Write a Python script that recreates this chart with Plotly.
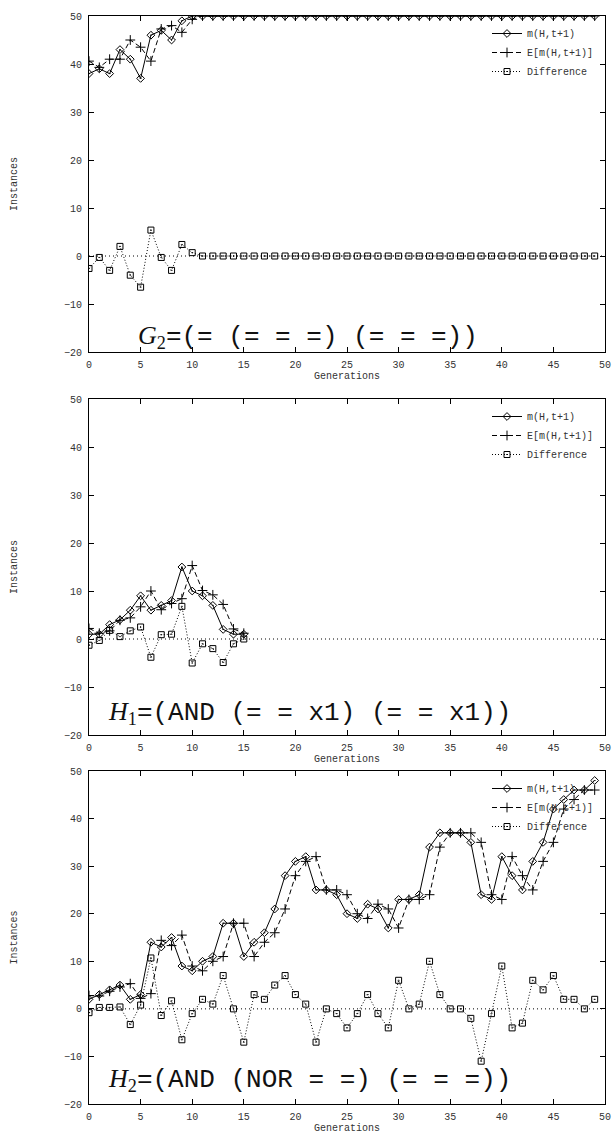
import plotly.graph_objects as go

# ---------------- data ----------------
gens_g2 = list(range(50))
g2_m = [38, 39, 38, 43, 41, 37, 46, 47, 45, 49,
        50, 50, 50, 50, 50, 50, 50, 50, 50, 50,
        50, 50, 50, 50, 50, 50, 50, 50, 50, 50,
        50, 50, 50, 50, 50, 50, 50, 50, 50, 50,
        50, 50, 50, 50, 50, 50, 50, 50, 50, 50]
g2_e = [40.6, 39.3, 41, 41, 45, 43.5, 40.6, 47.3, 48, 46.6,
        49.3, 50, 50, 50, 50, 50, 50, 50, 50, 50,
        50, 50, 50, 50, 50, 50, 50, 50, 50, 50,
        50, 50, 50, 50, 50, 50, 50, 50, 50, 50,
        50, 50, 50, 50, 50, 50, 50, 50, 50, 50]
g2_d = [-2.6, -0.3, -3, 2, -4, -6.5, 5.4, -0.3, -3, 2.4,
        0.7, 0, 0, 0, 0, 0, 0, 0, 0, 0,
        0, 0, 0, 0, 0, 0, 0, 0, 0, 0,
        0, 0, 0, 0, 0, 0, 0, 0, 0, 0,
        0, 0, 0, 0, 0, 0, 0, 0, 0, 0]

gens_h1 = list(range(16))
h1_m = [1, 1, 3, 4, 6, 9, 6, 7, 8, 15, 10, 9, 7, 2, 1, 1]
h1_e = [2.2, 1.2, 1.7, 3.9, 4.4, 6.7, 10, 6.1, 7.4, 8.4, 15.3, 10.1, 9.2, 7.2, 2.1, 1.2]
h1_d = [-1.3, -0.3, 1.8, 0.5, 1.7, 2.5, -3.8, 0.9, 1, 6.8, -5, -1, -2, -4.9, -1, 0]

gens_h2 = list(range(50))
h2_m = [2, 3, 4, 5, 2, 3, 14, 13, 15, 9,
        8, 10, 11, 18, 18, 11, 14, 16, 21, 28,
        31, 32, 25, 25, 24, 20, 19, 22, 21, 17,
        23, 23, 24, 34, 37, 37, 37, 35, 24, 23,
        32, 28, 25, 31, 35, 42, 44, 46, 46, 48]
h2_e = [2.8, 2.7, 3.7, 4.6, 5.3, 2.2, 3.2, 14.4, 13.3, 15.5,
        9, 8, 10, 11, 18, 18, 11, 14, 16, 21,
        28, 31, 32, 25, 25, 24, 20, 19, 22, 21,
        17, 23, 23, 24, 34, 37, 37, 37, 35, 24,
        23, 32, 28, 25, 31, 35, 42, 44, 46, 46]
h2_d = [-0.8, 0.3, 0.3, 0.4, -3.3, 0.8, 10.7, -1.4, 1.7, -6.5,
        -1, 2, 1, 7, 0, -7, 3, 2, 5, 7,
        3, 1, -7, 0, -1, -4, -1, 3, -1, -4,
        6, 0, 1, 10, 3, 0, 0, -2, -11, -1,
        9, -4, -3, 6, 4, 7, 2, 2, 0, 2]

series_names = ["m(H,t+1)", "E[m(H,t+1)]", "Difference"]
panel_labels = [
    '<span style="font-family:Liberation Serif"><i>G</i><sub>2</sub></span>=(= (= = =) (= = =))',
    '<span style="font-family:Liberation Serif"><i>H</i><sub>1</sub></span>=(AND (= = x1) (= = x1))',
    '<span style="font-family:Liberation Serif"><i>H</i><sub>2</sub></span>=(AND (NOR = =) (= = =))',
]
label_x = [4.6, 1.6, 1.6]
label_y = [-16.8, -15.4, -15.0]

x_ticks = [0, 5, 10, 15, 20, 25, 30, 35, 40, 45, 50]
y_ticks = [-20, -10, 0, 10, 20, 30, 40, 50]

panels = [
    (gens_g2, g2_m, g2_e, g2_d),
    (gens_h1, h1_m, h1_e, h1_d),
    (gens_h2, h2_m, h2_e, h2_d),
]

# ---------------- layout geometry (pixels) ----------------
W, H = 615, 1136
plot_left, plot_right = 89, 605
panel_tops = [16, 399, 771]
panel_hs = [336, 336, 333]

MONO = "Liberation Mono"
INK = "#000000"
TXT = "#333333"

fig = go.Figure()

for i, (gx, m, e, d) in enumerate(panels):
    sfx = "" if i == 0 else str(i + 1)
    xa, ya = "x" + sfx, "y" + sfx
    lg = "legend" + sfx
    fig.add_trace(go.Scatter(
        x=gx, y=m, name=series_names[0], xaxis=xa, yaxis=ya, legend=lg,
        mode="lines+markers",
        line=dict(color=INK, width=1),
        marker=dict(symbol="diamond-open-dot", size=6, color=INK, line=dict(width=1, color=INK)),
    ))
    fig.add_trace(go.Scatter(
        x=gx, y=e, name=series_names[1], xaxis=xa, yaxis=ya, legend=lg,
        mode="lines+markers",
        line=dict(color=INK, width=1, dash="5px,3px"),
        marker=dict(symbol="cross-thin-open", size=7, color=INK, line=dict(width=1, color=INK)),
    ))
    fig.add_trace(go.Scatter(
        x=gx, y=d, name=series_names[2], xaxis=xa, yaxis=ya, legend=lg,
        mode="lines+markers",
        line=dict(color=INK, width=1, dash="1px,2px"),
        marker=dict(symbol="square-open-dot", size=6, color=INK, line=dict(width=1, color=INK)),
    ))

    top = panel_tops[i]
    bot = top + panel_hs[i]
    ydom = [1 - bot / H, 1 - top / H]
    xdom = [plot_left / W, plot_right / W]

    axis_common = dict(
        showline=True, linecolor=INK, linewidth=1.2, mirror="ticks",
        ticks="inside", ticklen=5, tickwidth=1, tickcolor=INK,
        showgrid=False, zeroline=False, automargin=False,
        tickfont=dict(family=MONO, size=10, color=TXT),
    )
    fig.layout["xaxis" + sfx] = dict(
        axis_common, domain=xdom, anchor=ya, range=[0, 50],
        tickvals=x_ticks, ticklabelstandoff=3,
        title=dict(text="Generations", font=dict(family=MONO, size=10, color=TXT), standoff=0),
    )
    fig.layout["yaxis" + sfx] = dict(
        axis_common, domain=ydom, anchor=xa, range=[-20, 50],
        tickvals=y_ticks, ticklabelstandoff=4,
        title=dict(text="Instances", font=dict(family=MONO, size=10, color=TXT), standoff=44),
    )

    # dotted zero axis
    fig.add_shape(type="line", xref=xa + " domain", yref=ya, x0=0, x1=1, y0=0, y1=0,
                  line=dict(color=INK, width=1, dash="1px,3px"), layer="below")

    # formula label
    fig.add_annotation(
        xref=xa, yref=ya, x=label_x[i], y=label_y[i], xanchor="left", yanchor="middle",
        text=panel_labels[i], showarrow=False,
        font=dict(family=MONO, size=26, color="#111111"),
    )

    fig.layout[lg] = dict(
        x=(plot_right - 6) / W, y=1 - (top + 3) / H, xanchor="right", yanchor="top",
        bgcolor="rgba(0,0,0,0)", borderwidth=0,
        font=dict(family=MONO, size=10, color=TXT),
        itemwidth=30, tracegroupgap=0,
    )

fig.update_layout(
    width=W, height=H,
    margin=dict(l=0, r=0, t=0, b=0),
    paper_bgcolor="white", plot_bgcolor="white",
    showlegend=True,
)

fig.write_html(
    "out.html",
    config={"displayModeBar": False},
    post_script="document.body.style.margin='0';document.body.style.overflow='hidden';",
)
